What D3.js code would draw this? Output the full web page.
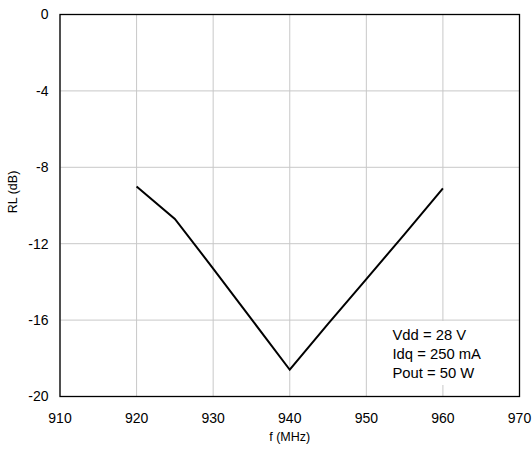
<!DOCTYPE html>
<html><head><meta charset="utf-8">
<script src="https://cdn.jsdelivr.net/npm/d3@7"></script>
<style>body{margin:0;background:#fff}svg{display:block}text{font-family:"Liberation Sans",Arial,sans-serif;fill:#000}</style>
</head><body><svg id="c" width="532" height="453"></svg>
<script>
const freq = [920, 925, 930, 935, 940, 945, 950, 955, 960];
const rl = [-9.0, -10.7, -13.3, -15.95, -18.6, -16.2, -13.85, -11.5, -9.1];
const xTicks = [910, 920, 930, 940, 950, 960, 970];
const yTicks = [0, -4, -8, -12, -16, -20];
const notes = ["Vdd = 28 V", "Idq = 250 mA", "Pout = 50 W"];

const svg = d3.select("#c");
const L = 60, R = 519.5, T = 14.5, B = 396.5;
const x = d3.scaleLinear().domain([910, 970]).range([L, R]);
const y = d3.scaleLinear().domain([-20, 0]).range([B, T]);
const fs = 14;

// grid
svg.append("g").selectAll("line").data(xTicks).join("line")
  .attr("x1", d => x(d)).attr("x2", d => x(d)).attr("y1", T).attr("y2", B)
  .attr("stroke", "#c8c8c8").attr("stroke-width", 1);
svg.append("g").selectAll("line").data(yTicks).join("line")
  .attr("y1", d => y(d)).attr("y2", d => y(d)).attr("x1", L).attr("x2", R)
  .attr("stroke", "#c8c8c8").attr("stroke-width", 1);

// annotation background
svg.append("rect").attr("x", 385).attr("y", 321).attr("width", R - 385 - 1).attr("height", 64).attr("fill", "#fff");

// line
svg.append("path").datum(freq.map((f, i) => [f, rl[i]]))
  .attr("d", d3.line().x(d => x(d[0])).y(d => y(d[1])))
  .attr("fill", "none").attr("stroke", "#000").attr("stroke-width", 2).attr("stroke-linejoin", "miter");

// frame
svg.append("rect").attr("x", L).attr("y", T).attr("width", R - L).attr("height", B - T)
  .attr("fill", "none").attr("stroke", "#000").attr("stroke-width", 1.3);

// tick labels
svg.append("g").selectAll("text").data(xTicks).join("text")
  .attr("x", d => x(d)).attr("y", 422.5).attr("text-anchor", "middle").attr("font-size", fs).text(d => d);
svg.append("g").selectAll("text").data(yTicks).join("text")
  .attr("x", 48.5).attr("y", d => y(d)).attr("dy", "0.35em").attr("text-anchor", "end").attr("font-size", fs).text(d => d);

// axis titles
svg.append("text").attr("x", x(940)).attr("y", 441).attr("text-anchor", "middle").attr("font-size", 12.5).text("f (MHz)");
svg.append("text").attr("transform", "translate(17,192) rotate(-90)").attr("text-anchor", "middle").attr("font-size", 12.5).text("RL (dB)");

// notes
svg.append("g").selectAll("text").data(notes).join("text")
  .attr("x", 392.5).attr("y", (d, i) => 339.5 + i * 19).attr("font-size", 14.8).text(d => d);
</script></body></html>
